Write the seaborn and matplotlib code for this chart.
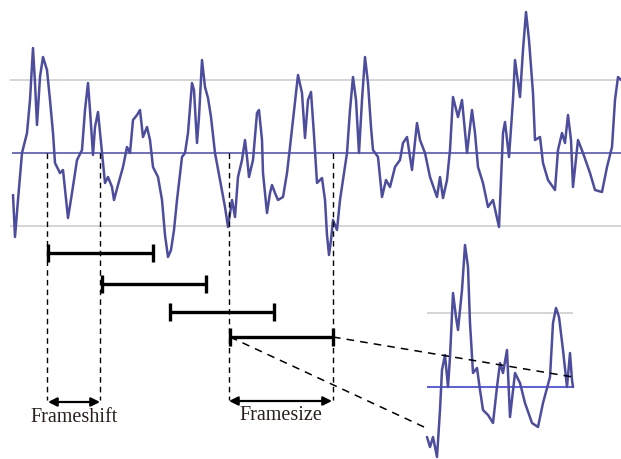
import matplotlib
matplotlib.use("Agg")
import matplotlib.pyplot as plt
import seaborn as sns

# ---- main speech signal (sample index, amplitude in counts; thresholds at +/-73) ----
signal_t = [13, 15, 18, 22, 27, 30, 33, 35, 37, 40, 43, 47, 50, 53, 55, 60, 63, 68, 72, 77,
            82, 85, 88, 90, 93, 95, 98, 102, 105, 108, 112, 114, 118, 123, 127, 130, 133, 137, 140, 143,
            147, 150, 153, 158, 162, 165, 168, 171, 174, 177, 182, 185, 188, 192, 194, 197, 199, 202, 205, 208,
            211, 215, 220, 225, 228, 232, 235, 238, 242, 245, 247, 249, 253, 257, 259, 262, 263, 267, 270, 272,
            275, 278, 283, 287, 290, 293, 298, 302, 305, 308, 311, 314, 317, 322, 325, 327, 329, 331, 333, 337,
            340, 347, 350, 353, 356, 359, 362, 365, 368, 371, 373, 378, 382, 386, 390, 395, 400, 403, 407, 412,
            417, 420, 425, 430, 437, 440, 443, 447, 450, 453, 458, 462, 467, 472, 475, 478, 483, 488, 493, 499,
            503, 505, 509, 513, 515, 520, 523, 526, 529, 533, 535, 540, 543, 548, 555, 558, 562, 565, 568, 571,
            573, 578, 583, 590, 595, 602, 607, 612, 615, 618, 621]
signal_v = [-42, -84, -47, 0, 20, 53, 105, 70, 28, 76, 96, 83, 53, 20, -10, -20, -17, -65, -40, -7,
            3, 43, 70, 43, -2, 26, 41, 0, -30, -24, -34, -47, -32, -14, 6, 0, 33, 38, 43, 16,
            26, 13, -14, -24, -47, -82, -104, -97, -77, -47, -4, 0, 20, 70, 63, 10, 36, 93, 66, 55,
            36, 0, -27, -54, -74, -47, -64, -24, -7, 13, -4, -24, -7, 40, 43, 13, -20, -60, -40, -32,
            -40, -47, -44, -20, 6, 33, 78, 60, 15, 53, 61, 18, -30, -25, -47, -82, -102, -87, -67, -77,
            -47, 0, 43, 76, 53, 0, 53, 96, 70, 26, 3, -4, -44, -27, -34, -14, -7, 10, 16, -17,
            30, 13, 0, -24, -44, -24, -45, -27, 3, 56, 36, 53, 0, 43, 20, -14, -30, -54, -47, -74,
            20, 31, -4, 53, 93, 56, 103, 141, 113, 60, 13, 16, -10, -27, -37, 3, 20, 10, 38, 13,
            -34, 13, 0, -20, -37, -39, -14, 6, 53, 76, 73]
threshold = 73

# ---- zoomed frame (inset) ----
frame_t = [427, 430, 433, 437, 440, 442, 445, 448, 450, 453, 456, 458, 462, 465, 468, 470, 473, 477, 480, 483,
           488, 493, 497, 500, 503, 507, 510, 515, 520, 525, 532, 538, 543, 550, 553, 556, 559, 563, 567, 570,
           572, 573]
frame_v = [-50, -60, -50, -70, -23, 17, 32, 0, 30, 94, 70, 57, 97, 142, 120, 64, 14, 19, -3, -23,
           -28, -36, 0, 24, 14, 37, -30, 14, 4, -16, -36, -40, -16, 10, 64, 79, 70, 37, 0, 34,
           7, 0]
frame_threshold = 74

# ---- frame annotation ----
frame_starts = [48, 102, 170, 230]
frame_ends = [153, 206, 274, 333]
frame_rows = [253, 284, 312, 337]
label_shift = "Frameshift"
label_size = "Framesize"

W, H = 621, 459
fig = plt.figure(figsize=(6.21, 4.59), dpi=100)
sns.set_style("white")

sig_color = "#4d4d9e"
mid_color = "#6e6ec4"
grey = "#d4d4d4"

# main signal axes: amplitude 0 sits at pixel row 153
ax_sig = fig.add_axes([0, 0, 1, 1])
ax_sig.set_xlim(0, W)
ax_sig.set_ylim(153 - H, 153)
ax_sig.axis("off")
ax_sig.hlines([threshold, -threshold], 10, W, colors=grey, linewidth=1.4, zorder=1)
ax_sig.hlines([0], 12, W, colors=mid_color, linewidth=1.4, zorder=1)
sns.lineplot(x=signal_t, y=signal_v, ax=ax_sig, color=sig_color, linewidth=1.8,
             estimator=None, sort=False, zorder=3, solid_joinstyle="round")

# inset axes: amplitude 0 sits at pixel row 387
ax_in = fig.add_axes([0, 0, 1, 1])
ax_in.set_xlim(0, W)
ax_in.set_ylim(387 - H, 387)
ax_in.patch.set_alpha(0)
ax_in.axis("off")
ax_in.hlines([frame_threshold], 427, 573, colors=grey, linewidth=1.4, zorder=1)
ax_in.hlines([0], 427, 573, colors="#5a5af0", linewidth=1.4, zorder=1)
sns.lineplot(x=frame_t, y=frame_v, ax=ax_in, color=sig_color, linewidth=1.8,
             estimator=None, sort=False, zorder=3, solid_joinstyle="round")

# annotation axes in pixel units
ax = fig.add_axes([0, 0, 1, 1])
ax.set_xlim(0, W)
ax.set_ylim(H, 0)
ax.patch.set_alpha(0)
ax.axis("off")

dash = (0, (4, 3))
ax.vlines([47, 100, 229, 333], 153, 400, colors="black", linewidth=1.0, linestyles=[dash])

for s, e, r in zip(frame_starts, frame_ends, frame_rows):
    ax.plot([s, e], [r, r], color="black", linewidth=2.4, solid_capstyle="butt")
    ax.plot([s, s], [r - 9, r + 9], color="black", linewidth=2.4, solid_capstyle="butt")
    ax.plot([e, e], [r - 9, r + 9], color="black", linewidth=2.4, solid_capstyle="butt")

ax.plot([230, 424], [337, 427], color="black", linewidth=1.1, linestyle=(0, (5, 4)))
ax.plot([333, 573], [337, 377], color="black", linewidth=1.1, linestyle=(0, (5, 4)))

arrow = dict(arrowstyle="<|-|>", color="black", lw=1.6, mutation_scale=13,
             shrinkA=0, shrinkB=0)
ax.annotate("", xy=(100, 402), xytext=(48, 402), arrowprops=arrow)
ax.annotate("", xy=(332, 401), xytext=(229, 401), arrowprops=arrow)

txt_color = "#2a1f1a"
ax.text(74, 417, label_shift, ha="center", va="center", fontsize=14.5,
        family="Liberation Serif", color=txt_color)
ax.text(281, 416, label_size, ha="center", va="center", fontsize=14.5,
        family="Liberation Serif", color=txt_color)

fig.savefig("out.png", dpi=100)
